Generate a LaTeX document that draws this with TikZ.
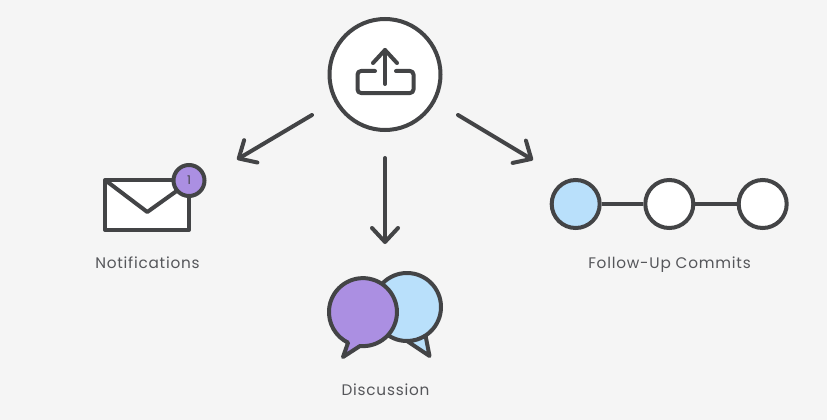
\documentclass[tikz,border=0pt]{standalone}
\usepackage{fontspec}
\setmainfont[LetterSpace=5]{Poppins}
\usetikzlibrary{arrows.meta}
\definecolor{ink}{HTML}{434446}
\definecolor{labelink}{HTML}{55565A}
\definecolor{bgc}{HTML}{F5F5F5}
\definecolor{purp}{HTML}{AB8FE2}
\definecolor{sky}{HTML}{B9E0FB}
\tikzset{
  ln/.style={draw=ink,line width=4pt,line join=round,line cap=round},
  ring/.style={circle,draw=ink,line width=4pt,inner sep=0pt,minimum size=#1},
  lbl/.style={font=\fontsize{15.3}{18}\selectfont,text=labelink,inner sep=0pt,anchor=base},
  arr/.style={ln,-{Straight Barb[length=14pt,width=26pt,round]}}
}
\begin{document}
\begin{tikzpicture}[x=1pt,y=-1pt]
\useasboundingbox (0,0) rectangle (827,420);
\fill[bgc] (0,0) rectangle (827,420);
% upload
\node[ring=111pt,fill=white] (main) at (385,74.5) {};
\draw[ln,rounded corners=3.5pt] (375,71) -- (357.5,71) -- (357.5,93) -- (413.5,93) -- (413.5,71) -- (396,71);
\draw[ln] (373,63) -- (385,50) -- (397,63);
\draw[ln] (385,84) -- (385,50);
% arrows
\coordinate (a1s) at (312,115); \coordinate (a1e) at (237,159.5);
\coordinate (a2s) at (385,158); \coordinate (a2e) at (385,244);
\coordinate (a3s) at (458,115); \coordinate (a3e) at (533,160);
\draw[arr] (a1s) -- (a1e);
\draw[arr] (a2s) -- (a2e);
\draw[arr] (a3s) -- (a3e);
% envelope
\draw[ln,fill=white] (105,180) rectangle (189,230);
\draw[draw=ink,line width=4pt,line join=round] (105,180) -- (147.3,212) -- (178,190);
\node[ring=31pt,fill=purp,font=\fontsize{12}{12}\selectfont,text=ink] (badge) at (189,180.5) {1};
\node[lbl] (notif) at (147.5,268.5) {Notifications};
% discussion
\draw[ln,fill=sky] (407,307) ++(57:34) -- (429.5,356) -- (407,341) arc[start angle=90,end angle=-303,radius=34] -- cycle;
\draw[ln,fill=purp] (363,312) ++(116:34) -- (343,357) -- (360,346) arc[start angle=95,end angle=-244,radius=34] -- cycle;
\node[lbl] (disc) at (385.5,395.5) {Discussion};
% commits
\node[ring=48pt,fill=sky] (c1) at (575.7,204) {};
\node[ring=48pt,fill=white] (c2) at (669.3,204) {};
\node[ring=48pt,fill=white] (c3) at (762.7,204) {};
\draw[draw=ink,line width=4pt] (c1) -- (c2);
\draw[draw=ink,line width=4pt] (c2) -- (c3);
\node[lbl] (fu) at (669.5,268.5) {Follow-Up Commits};
\end{tikzpicture}
\end{document}
